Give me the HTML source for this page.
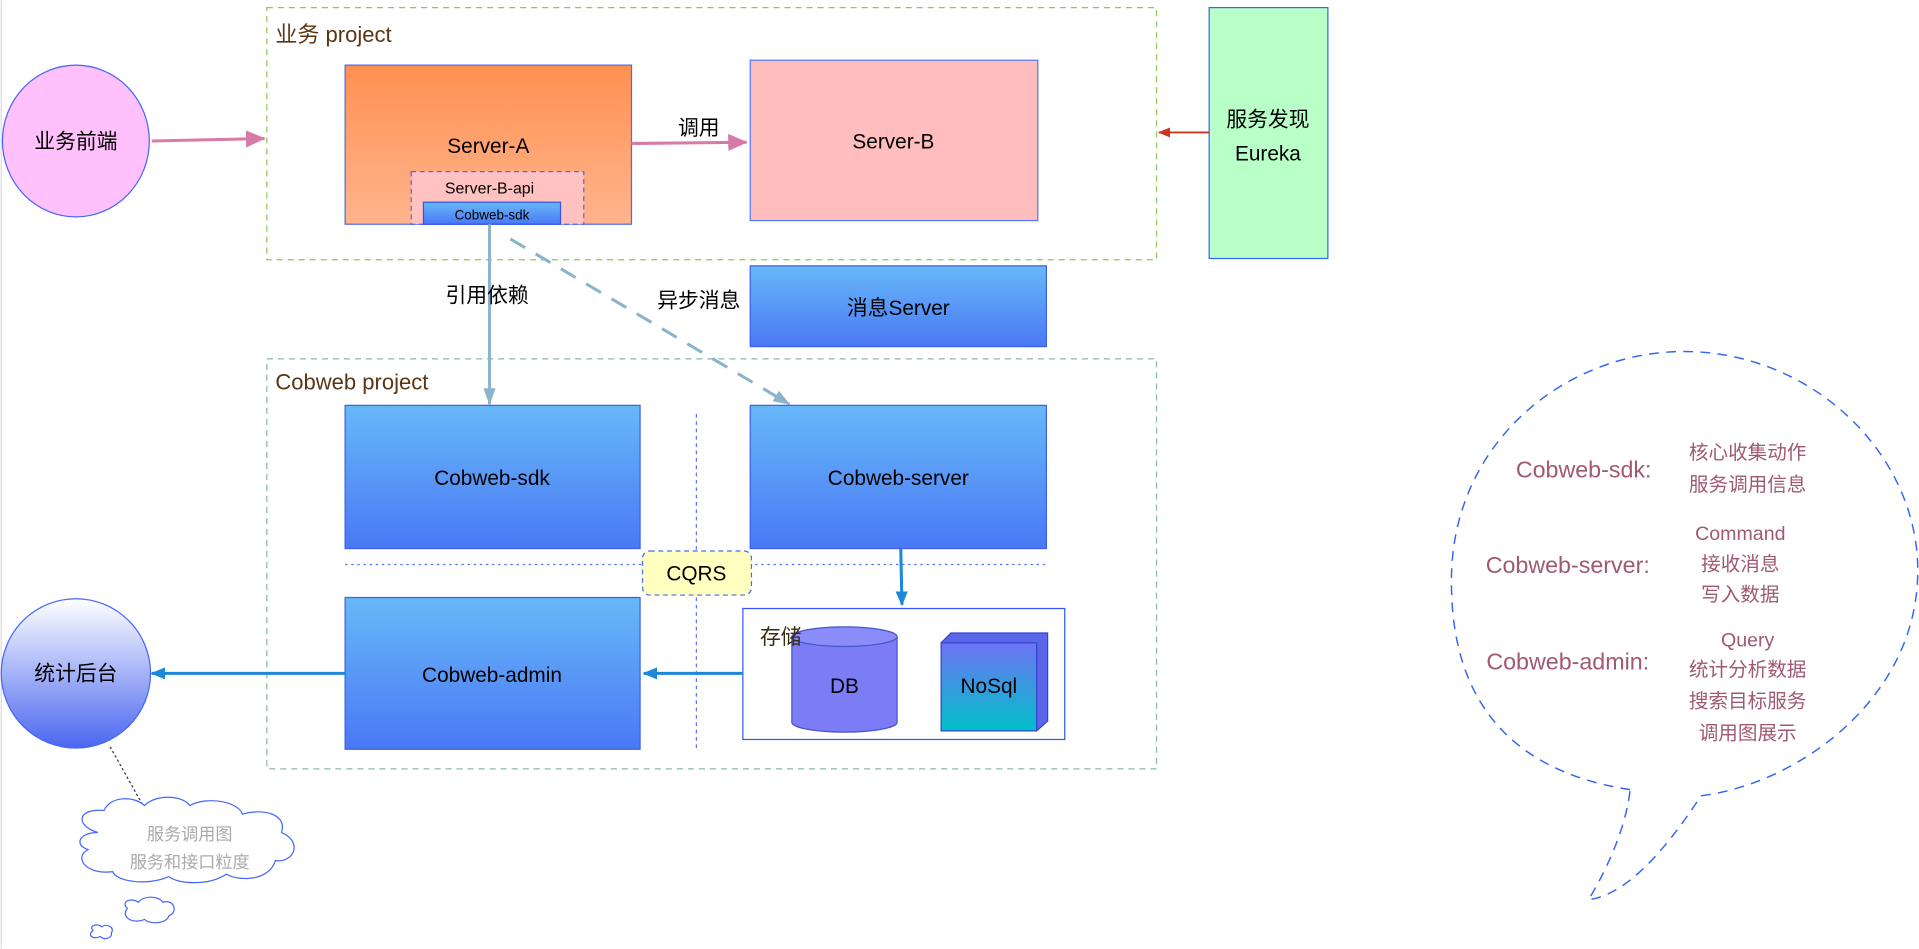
<!DOCTYPE html>
<html><head><meta charset="utf-8"><style>
html,body{margin:0;padding:0;background:#fff;width:1919px;height:949px;overflow:hidden}
svg{display:block}
text{font-family:"Liberation Sans","Noto Sans CJK SC",sans-serif}
</style></head><body>
<svg width="1919" height="949" viewBox="0 0 1568 775" xmlns="http://www.w3.org/2000/svg">
<defs>
<linearGradient id="og" x1="0" y1="0" x2="0" y2="1"><stop offset="0" stop-color="#ff9050"/><stop offset="1" stop-color="#ffb48e"/></linearGradient>
<linearGradient id="bg" x1="0" y1="0" x2="0" y2="1"><stop offset="0" stop-color="#67b8f8"/><stop offset="1" stop-color="#4a78f5"/></linearGradient>
<linearGradient id="cg" x1="0" y1="0" x2="0" y2="1"><stop offset="0" stop-color="#ffffff"/><stop offset="1" stop-color="#4a66f0"/></linearGradient>
<linearGradient id="ng" x1="0" y1="0" x2="0" y2="1"><stop offset="0" stop-color="#6e74f5"/><stop offset="1" stop-color="#00c0c8"/></linearGradient>
<marker id="ap" markerWidth="16" markerHeight="16" refX="15" refY="8" orient="auto" markerUnits="userSpaceOnUse"><path d="M0,1 L16,8 L0,15 Z" fill="#d77aa8"/></marker>
<marker id="ar" markerWidth="10" markerHeight="10" refX="9" refY="5" orient="auto" markerUnits="userSpaceOnUse"><path d="M0,1 L10,5 L0,9 Z" fill="#cc3322"/></marker>
<marker id="ag" markerWidth="14" markerHeight="14" refX="13" refY="7" orient="auto" markerUnits="userSpaceOnUse"><path d="M0,2 L14,7 L0,12 Z" fill="#8ab4cc"/></marker>
<marker id="ab" markerWidth="12" markerHeight="12" refX="11" refY="6" orient="auto" markerUnits="userSpaceOnUse"><path d="M0,1 L12,6 L0,11 Z" fill="#1e88d8"/></marker>
</defs>
<line x1="1" y1="0" x2="1" y2="775" stroke="#ddd"/>
<rect x="218" y="6" width="727" height="206" fill="none" stroke="#8fc85a" stroke-dasharray="5,4"/>
<text x="225" y="34" font-size="18" fill="#5a3612">业务  project</text>
<ellipse cx="62" cy="115" rx="60" ry="62" fill="#ffc0fc" stroke="#4466ff"/>
<text x="62" y="121" font-size="17" text-anchor="middle">业务前端</text>
<line x1="124" y1="115" x2="216" y2="113" stroke="#d77aa8" stroke-width="2.5" marker-end="url(#ap)"/>
<rect x="282" y="53" width="234" height="130" fill="url(#og)" stroke="#4a6cf0"/>
<text x="399" y="125" font-size="17" text-anchor="middle">Server-A</text>
<rect x="336" y="140" width="141" height="43" fill="#ffc2c0" stroke="#4a6cf0" stroke-dasharray="4,3"/>
<text x="400" y="158" font-size="13" text-anchor="middle">Server-B-api</text>
<rect x="346" y="165" width="112" height="18" fill="url(#bg)" stroke="#3355ee"/>
<text x="402" y="179" font-size="11" text-anchor="middle">Cobweb-sdk</text>
<line x1="516" y1="117" x2="610" y2="116" stroke="#d77aa8" stroke-width="2.5" marker-end="url(#ap)"/>
<text x="571" y="110" font-size="17" text-anchor="middle">调用</text>
<rect x="613" y="49" width="235" height="131" fill="#ffbdbd" stroke="#5577ff"/>
<text x="730" y="121" font-size="17" text-anchor="middle">Server-B</text>
<rect x="988" y="6" width="97" height="205" fill="#b8ffc8" stroke="#3366ff"/>
<text x="1036" y="103" font-size="17" text-anchor="middle">服务发现</text>
<text x="1036" y="131" font-size="17" text-anchor="middle">Eureka</text>
<line x1="988" y1="108" x2="947" y2="108" stroke="#cc3322" stroke-width="1.5" marker-end="url(#ar)"/>
<rect x="613" y="217" width="242" height="66" fill="url(#bg)" stroke="#3d5ff0"/>
<text x="734" y="257" font-size="17" text-anchor="middle">消息Server</text>
<line x1="400" y1="183" x2="400" y2="330" stroke="#8ab4cc" stroke-width="2.5" marker-end="url(#ag)"/>
<text x="398" y="247" font-size="17" text-anchor="middle">引用依赖</text>
<line x1="417" y1="195" x2="645" y2="330" stroke="#8ab4cc" stroke-width="2.5" stroke-dasharray="14,10" marker-end="url(#ag)"/>
<text x="571" y="251" font-size="17" text-anchor="middle">异步消息</text>
<rect x="218" y="293" width="727" height="335" fill="none" stroke="#8ab8a8" stroke-dasharray="5,4"/>
<text x="225" y="318" font-size="18" fill="#5a3612">Cobweb  project</text>
<rect x="282" y="331" width="241" height="117" fill="url(#bg)" stroke="#3d5ff0"/>
<text x="402" y="396" font-size="17" text-anchor="middle">Cobweb-sdk</text>
<rect x="613" y="331" width="242" height="117" fill="url(#bg)" stroke="#3d5ff0"/>
<text x="734" y="396" font-size="17" text-anchor="middle">Cobweb-server</text>
<line x1="569" y1="338" x2="569" y2="612" stroke="#5577ee" stroke-dasharray="3,3"/>
<line x1="282" y1="461" x2="855" y2="461" stroke="#5577ee" stroke-dasharray="2,3"/>
<rect x="525" y="450" width="89" height="36" rx="6" fill="#ffffc0" stroke="#4a6cf0" stroke-dasharray="4,3"/>
<text x="569" y="474" font-size="17" text-anchor="middle">CQRS</text>
<line x1="736" y1="448" x2="737" y2="494" stroke="#1e88d8" stroke-width="2.5" marker-end="url(#ab)"/>
<rect x="607" y="497" width="263" height="107" fill="#fff" stroke="#3355ff"/>
<path d="M647,520 L647,590 A43,8 0 0 0 733,590 L733,520" fill="#7b7cf6" stroke="#4455cc"/>
<ellipse cx="690" cy="520" rx="43" ry="8" fill="#8a8cfa" stroke="#4455cc"/>
<text x="690" y="566" font-size="17" text-anchor="middle">DB</text>
<text x="621" y="526" font-size="17" fill="#3a2a10">存储</text>
<path d="M769,525 L777,517 L856,517 L856,589 L847,597 Z" fill="#5a66e8" stroke="#3344cc"/>
<rect x="769" y="525" width="78" height="72" fill="url(#ng)" stroke="#3344cc"/>
<text x="808" y="566" font-size="17" text-anchor="middle">NoSql</text>
<rect x="282" y="488" width="241" height="124" fill="url(#bg)" stroke="#3d5ff0"/>
<text x="402" y="557" font-size="17" text-anchor="middle">Cobweb-admin</text>
<line x1="607" y1="550" x2="526" y2="550" stroke="#1e88d8" stroke-width="2.5" marker-end="url(#ab)"/>
<line x1="282" y1="550" x2="124" y2="550" stroke="#1e88d8" stroke-width="2.5" marker-end="url(#ab)"/>
<circle cx="62" cy="550" r="61" fill="url(#cg)" stroke="#4466ff"/>
<text x="62" y="556" font-size="17" text-anchor="middle">统计后台</text>
<line x1="90" y1="610" x2="118" y2="660" stroke="#333" stroke-dasharray="2,2"/>
<path d="M80,680 C62,675 62,660 85,662 C90,650 110,650 118,658 C128,648 150,650 155,658 C170,650 195,655 198,665 C215,660 235,665 230,680 C248,688 240,705 225,703 C220,720 195,720 185,714 C170,724 145,722 138,716 C120,724 95,720 92,712 C70,715 60,700 72,694 C60,690 65,680 80,680 Z" fill="#fff" stroke="#4466ff"/>
<text x="155" y="686" font-size="14" fill="#aaa" text-anchor="middle">服务调用图</text>
<text x="155" y="709" font-size="14" fill="#aaa" text-anchor="middle">服务和接口粒度</text>
<path d="M104,742 C98,736 108,733 113,737 C118,731 130,732 133,737 C142,734 146,745 138,748 C136,755 122,755 118,751 C110,755 98,750 104,742 Z" fill="#fff" stroke="#4466ff"/>
<path d="M76,760 C72,756 80,754 83,757 C88,754 94,758 91,762 C92,767 84,768 82,765 C76,768 71,764 76,760 Z" fill="#fff" stroke="#4466ff"/>
<path d="M1332,645 C1200,625 1185,530 1186,470 C1188,360 1280,287 1376,287 C1480,287 1567,370 1567,466 C1567,570 1470,640 1390,650 C1370,680 1335,730 1298,735 C1310,715 1328,680 1332,645 Z" fill="none" stroke="#3366ee" stroke-width="1.2" stroke-dasharray="8,6"/>
<g fill="#a05a70">
<text x="1294" y="390" font-size="19" text-anchor="middle">Cobweb-sdk:</text>
<text x="1428" y="375" font-size="16" text-anchor="middle">核心收集动作</text>
<text x="1428" y="401" font-size="16" text-anchor="middle">服务调用信息</text>
<text x="1422" y="441" font-size="16" text-anchor="middle">Command</text>
<text x="1281" y="468" font-size="19" text-anchor="middle">Cobweb-server:</text>
<text x="1422" y="466" font-size="16" text-anchor="middle">接收消息</text>
<text x="1422" y="491" font-size="16" text-anchor="middle">写入数据</text>
<text x="1428" y="528" font-size="16" text-anchor="middle">Query</text>
<text x="1281" y="547" font-size="19" text-anchor="middle">Cobweb-admin:</text>
<text x="1428" y="552" font-size="16" text-anchor="middle">统计分析数据</text>
<text x="1428" y="578" font-size="16" text-anchor="middle">搜索目标服务</text>
<text x="1428" y="604" font-size="16" text-anchor="middle">调用图展示</text>
</g>
</svg>
</body></html>
